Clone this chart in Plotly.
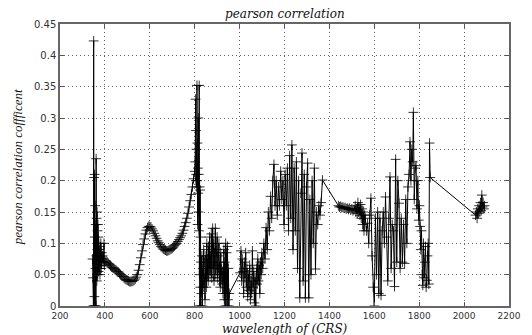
import plotly.graph_objects as go

# ---- data ----
wl_spikes = [345, 347, 349, 350, 351, 352, 353, 354, 355, 356, 357, 358, 359, 360, 361, 362, 363, 364, 365, 366,
             367, 368, 369, 370, 371, 372, 373, 374, 375, 376, 377, 378, 379, 380, 382, 384, 386, 388, 390, 392,
             394, 396, 398, 400]
val_spikes = [0.075, 0.045, 0.0, 0.423, 0.0, 0.205, 0.015, 0.21, 0.11, 0.0, 0.16, 0.06, 0.13, 0.0, 0.235, 0.08, 0.14, 0.04, 0.15, 0.09,
              0.12, 0.05, 0.13, 0.07, 0.11, 0.055, 0.1, 0.065, 0.09, 0.06, 0.085, 0.05, 0.095, 0.07, 0.1, 0.06, 0.085, 0.075, 0.08, 0.07,
              0.075, 0.1, 0.065, 0.07]

wl_smooth = [405, 410, 415, 420, 425, 430, 435, 440, 445, 450, 455, 460, 465, 470, 475, 480, 485, 490, 495, 500,
             505, 510, 515, 520, 525, 530, 535, 540, 545, 550, 555, 560, 565, 570, 575, 580, 585, 590, 595, 600,
             605, 610, 615, 620, 625, 630, 635, 640, 645, 650, 655, 660, 665, 670, 675, 680, 685, 690, 695, 700,
             705, 710, 715, 720, 725, 730, 735, 740, 745, 750, 755, 760, 765, 770, 775, 780, 785, 790, 795, 800]
val_smooth = [0.072, 0.07, 0.068, 0.066, 0.064, 0.062, 0.061, 0.06, 0.058, 0.057, 0.055, 0.054, 0.052, 0.05, 0.048, 0.047, 0.045, 0.043, 0.042, 0.041,
              0.04, 0.039, 0.039, 0.039, 0.04, 0.041, 0.043, 0.046, 0.05, 0.057, 0.066, 0.077, 0.088, 0.098, 0.107, 0.115, 0.121, 0.125, 0.127, 0.127,
              0.126, 0.123, 0.12, 0.116, 0.112, 0.108, 0.104, 0.101, 0.098, 0.095, 0.093, 0.091, 0.09, 0.089, 0.088, 0.088, 0.089, 0.09, 0.091, 0.092,
              0.094, 0.096, 0.098, 0.1, 0.103, 0.106, 0.109, 0.112, 0.116, 0.121, 0.127, 0.133, 0.14, 0.148, 0.158, 0.168, 0.178, 0.19, 0.203, 0.215]

wl_peak = [802, 804, 805, 806, 807, 808, 809, 810, 811, 812, 813, 814, 815, 816, 817, 818, 819, 820, 821, 822,
           823, 824, 825, 826, 827, 828]
val_peak = [0.23, 0.33, 0.2, 0.28, 0.21, 0.25, 0.19, 0.352, 0.2, 0.26, 0.13, 0.22, 0.18, 0.3, 0.15, 0.21, 0.12, 0.352, 0.05, 0.19,
            0.0, 0.185, 0.03, 0.11, 0.0, 0.07]

wl_nir1 = [830, 832, 834, 836, 838, 840, 842, 844, 846, 848, 850, 852, 854, 856, 858, 860, 862, 864, 866, 868,
           870, 872, 874, 876, 878, 880, 882, 884, 886, 888, 890, 892, 894, 896, 898, 900, 902, 904, 906, 908,
           910, 912, 914, 916, 918, 920, 922, 924, 926, 928, 930, 932, 934, 936, 938, 940, 942, 944, 946, 948,
           950, 952, 954]
val_nir1 = [0.02, 0.08, 0.0, 0.06, 0.03, 0.09, 0.04, 0.07, 0.01, 0.05, 0.08, 0.03, 0.1, 0.05, 0.075, 0.04, 0.095, 0.06, 0.11, 0.05,
            0.08, 0.06, 0.115, 0.045, 0.09, 0.124, 0.06, 0.1, 0.04, 0.085, 0.07, 0.124, 0.05, 0.09, 0.065, 0.11, 0.045, 0.08, 0.06, 0.1,
            0.04, 0.07, 0.03, 0.085, 0.05, 0.06, 0.035, 0.055, 0.02, 0.045, 0.09, 0.01, 0.07, 0.0, 0.1, 0.02, 0.085, 0.0, 0.095, 0.01,
            0.06, 0.0, 0.02]

wl_nir2 = [1002, 1006, 1009, 1012, 1015, 1018, 1021, 1024, 1027, 1030, 1033, 1036, 1039, 1042, 1045, 1048, 1051, 1054, 1057, 1060,
           1063, 1066, 1069, 1072, 1075, 1078, 1081, 1084, 1087, 1090, 1093, 1096, 1099]
val_nir2 = [0.053, 0.088, 0.04, 0.075, 0.055, 0.02, 0.07, 0.045, 0.085, 0.03, 0.06, 0.015, 0.05, 0.025, 0.065, 0.01, 0.04, 0.02, 0.088, 0.03,
            0.055, 0.005, 0.045, 0.0, 0.06, 0.035, 0.075, 0.04, 0.065, 0.02, 0.07, 0.05, 0.085]

wl_nir3 = [1103, 1108, 1113, 1118, 1123, 1128, 1133, 1138, 1143, 1148, 1153, 1158, 1163, 1168, 1173, 1178, 1183, 1188, 1193, 1198,
           1203, 1208, 1213, 1218, 1223, 1228, 1233, 1238, 1243, 1248, 1253, 1258, 1263, 1268, 1273, 1278, 1283, 1288, 1293, 1298,
           1303, 1308, 1313, 1318, 1323, 1328, 1333, 1338, 1343, 1348, 1353, 1358, 1363, 1369]
val_nir3 = [0.06, 0.1, 0.075, 0.125, 0.09, 0.15, 0.12, 0.175, 0.14, 0.2, 0.226, 0.16, 0.2, 0.145, 0.19, 0.16, 0.215, 0.17, 0.2, 0.13,
            0.21, 0.16, 0.22, 0.12, 0.24, 0.14, 0.257, 0.09, 0.22, 0.12, 0.23, 0.06, 0.2, 0.013, 0.18, 0.244, 0.04, 0.21, 0.013, 0.19,
            0.228, 0.013, 0.17, 0.05, 0.2, 0.1, 0.22, 0.059, 0.15, 0.13, 0.16, 0.145, 0.165, 0.201]

wl_swir1 = [1440, 1445, 1450, 1455, 1460, 1465, 1470, 1475, 1480, 1485, 1490, 1495, 1500, 1505, 1510, 1515, 1518, 1521, 1524, 1527,
            1530, 1533, 1536, 1539, 1542, 1545, 1548, 1551, 1554, 1557]
val_swir1 = [0.16, 0.158, 0.159, 0.157, 0.158, 0.156, 0.157, 0.155, 0.156, 0.154, 0.156, 0.153, 0.155, 0.152, 0.154, 0.16, 0.15, 0.155, 0.148, 0.165,
             0.15, 0.158, 0.145, 0.162, 0.14, 0.155, 0.13, 0.15, 0.12, 0.145]

wl_swir2 = [1560, 1565, 1570, 1575, 1580, 1585, 1590, 1595, 1600, 1605, 1610, 1615, 1620, 1625, 1630, 1635, 1640, 1645, 1650, 1655,
            1660, 1665, 1670, 1675, 1680, 1685, 1690, 1695, 1700, 1705, 1710, 1715, 1720, 1725, 1730, 1735, 1740, 1745, 1750, 1755,
            1759, 1763, 1767, 1771, 1774, 1778, 1782, 1786, 1790, 1794, 1798, 1801, 1804, 1807, 1810, 1813, 1816, 1819, 1822, 1825,
            1828, 1831, 1834, 1837, 1840, 1843, 1846, 1849]
val_swir2 = [0.14, 0.12, 0.132, 0.1, 0.145, 0.172, 0.08, 0.03, 0.0, 0.14, 0.05, 0.15, 0.02, 0.14, 0.017, 0.12, 0.15, 0.1, 0.174, 0.11,
             0.04, 0.14, 0.206, 0.06, 0.13, 0.12, 0.031, 0.234, 0.07, 0.2, 0.164, 0.06, 0.14, 0.07, 0.13, 0.068, 0.17, 0.1, 0.19, 0.21,
             0.262, 0.2, 0.25, 0.23, 0.309, 0.17, 0.22, 0.224, 0.155, 0.2, 0.137, 0.16, 0.127, 0.09, 0.12, 0.05, 0.033, 0.1, 0.045, 0.07,
             0.095, 0.03, 0.041, 0.08, 0.1, 0.035, 0.26, 0.205]

wl_swir3 = [2051, 2055, 2058, 2061, 2064, 2067, 2070, 2073, 2076, 2079, 2082, 2085, 2088, 2091]
val_swir3 = [0.145, 0.15, 0.14, 0.155, 0.148, 0.16, 0.15, 0.165, 0.152, 0.177, 0.158, 0.165, 0.155, 0.16]

x_ticks = [200, 400, 600, 800, 1000, 1200, 1400, 1600, 1800, 2000, 2200]
y_ticks = [0, 0.05, 0.1, 0.15, 0.2, 0.25, 0.3, 0.35, 0.4, 0.45]
y_tick_text = ["0", "0.05", "0.1", "0.15", "0.2", "0.25", "0.3", "0.35", "0.4", "0.45"]

segments = [(wl_spikes, val_spikes), (wl_smooth, val_smooth), (wl_peak, val_peak), (wl_nir1, val_nir1),
            (wl_nir2, val_nir2), (wl_nir3, val_nir3), (wl_swir1, val_swir1), (wl_swir2, val_swir2),
            (wl_swir3, val_swir3)]
wavelength, coefficient = [], []
for w, v in segments:
    assert len(w) == len(v), (w[0], len(w), len(v))
    wavelength += w
    coefficient += v

fig = go.Figure()
fig.add_trace(go.Scatter(
    x=wavelength, y=coefficient, mode="lines+markers",
    line=dict(color="black", width=1),
    marker=dict(symbol="cross-thin", size=7, color="black", line=dict(color="rgba(0,0,0,0.8)", width=1)),
    showlegend=False,
))

axis_common = dict(
    showline=True, linecolor="#666", linewidth=1.5, mirror="ticks",
    ticks="inside", ticklen=4, tickcolor="#555",
    showgrid=True, gridcolor="#666", griddash="1px,3px", gridwidth=1,
    zeroline=False,
)

fig.update_xaxes(range=[200, 2200], tickvals=x_ticks, ticktext=[str(t) for t in x_ticks],
                 tickfont=dict(family="DejaVu Sans", size=9, color="#333"), **axis_common)
fig.update_yaxes(range=[0, 0.45], tickvals=y_ticks, ticktext=y_tick_text,
                 tickfont=dict(family="DejaVu Sans", size=10, color="#333"), **axis_common)

fig.update_layout(
    width=532, height=335,
    margin=dict(l=60, r=11, t=24, b=29),
    paper_bgcolor="white", plot_bgcolor="white",
    annotations=[
        dict(text="<i>pearson correlation</i>", xref="paper", yref="paper", x=0.5, y=1.035,
             xanchor="center", yanchor="middle", showarrow=False,
             font=dict(family="DejaVu Serif", size=12, color="#111")),
        dict(text="<i>wavelength of (CRS)</i>", xref="paper", yref="paper", x=0.5, y=-0.083,
             xanchor="center", yanchor="middle", showarrow=False,
             font=dict(family="DejaVu Serif", size=12, color="#111")),
        dict(text="<i>pearson correlation coffficent</i>", xref="paper", yref="paper", x=-0.093, y=0.493,
             xanchor="center", yanchor="middle", showarrow=False, textangle=-90,
             font=dict(family="Liberation Serif", size=13, color="#111")),
    ],
)

fig.write_html("out.html")
